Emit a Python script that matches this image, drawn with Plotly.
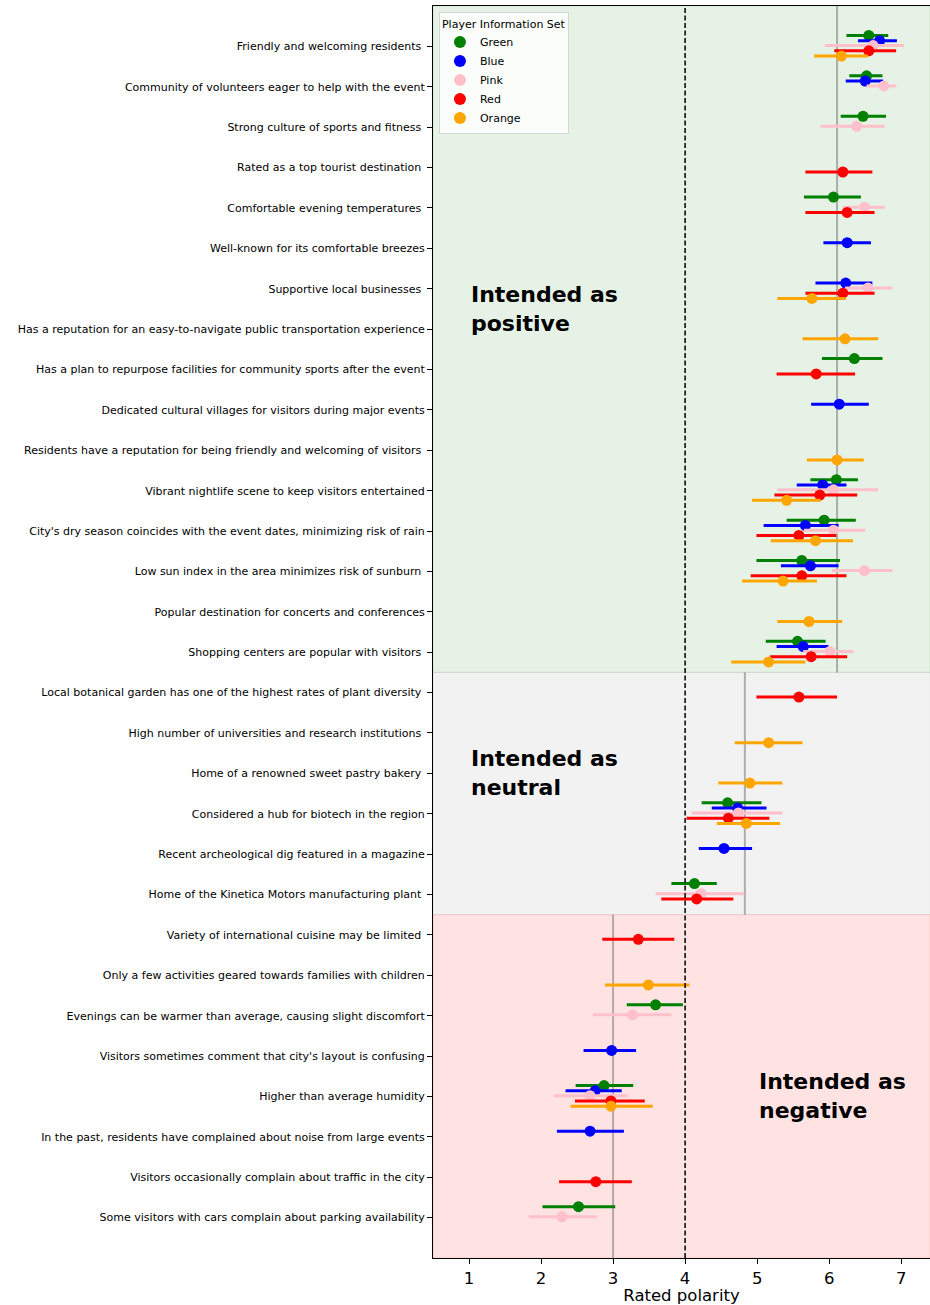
import plotly.graph_objects as go

labels = [
    "Friendly and welcoming residents ",
    "Community of volunteers eager to help with the event",
    "Strong culture of sports and fitness ",
    "Rated as a top tourist destination ",
    "Comfortable evening temperatures ",
    "Well-known for its comfortable breezes",
    "Supportive local businesses ",
    "Has a reputation for an easy-to-navigate public transportation experience",
    "Has a plan to repurpose facilities for community sports after the event",
    "Dedicated cultural villages for visitors during major events",
    "Residents have a reputation for being friendly and welcoming of visitors ",
    "Vibrant nightlife scene to keep visitors entertained",
    "City's dry season coincides with the event dates, minimizing risk of rain",
    "Low sun index in the area minimizes risk of sunburn ",
    "Popular destination for concerts and conferences",
    "Shopping centers are popular with visitors ",
    "Local botanical garden has one of the highest rates of plant diversity ",
    "High number of universities and research institutions ",
    "Home of a renowned sweet pastry bakery ",
    "Considered a hub for biotech in the region",
    "Recent archeological dig featured in a magazine",
    "Home of the Kinetica Motors manufacturing plant ",
    "Variety of international cuisine may be limited ",
    "Only a few activities geared towards families with children",
    "Evenings can be warmer than average, causing slight discomfort",
    "Visitors sometimes comment that city's layout is confusing",
    "Higher than average humidity",
    "In the past, residents have complained about noise from large events",
    "Visitors occasionally complain about traffic in the city",
    "Some visitors with cars complain about parking availability",
]

# each series: category index, mean, lower, upper
green_idx  = [0, 1, 2, 4, 8, 11, 12, 13, 15, 19, 21, 24, 26, 29]
green_mean = [6.55, 6.52, 6.47, 6.06, 6.35, 6.10, 5.93, 5.62, 5.56, 4.59, 4.13, 3.59, 2.875, 2.52]
green_lo   = [6.24, 6.28, 6.16, 5.65, 5.90, 5.74, 5.41, 4.99, 5.12, 4.23, 3.81, 3.19, 2.48, 2.02]
green_hi   = [6.82, 6.74, 6.79, 6.44, 6.74, 6.40, 6.37, 6.15, 5.95, 5.06, 4.44, 3.97, 3.28, 3.03]

blue_idx  = [0, 1, 5, 6, 9, 11, 12, 13, 15, 19, 20, 25, 26, 27]
blue_mean = [6.70, 6.50, 6.25, 6.23, 6.14, 5.91, 5.67, 5.74, 5.64, 4.73, 4.54, 2.98, 2.75, 2.68]
blue_lo   = [6.40, 6.23, 5.92, 5.81, 5.75, 5.55, 5.09, 5.33, 5.27, 4.37, 4.19, 2.59, 2.34, 2.22]
blue_hi   = [6.94, 6.75, 6.58, 6.60, 6.55, 6.24, 6.13, 6.13, 5.99, 5.13, 4.93, 3.32, 3.12, 3.15]

pink_idx  = [0, 1, 2, 4, 6, 11, 12, 13, 15, 19, 21, 24, 26, 29]
pink_mean = [6.61, 6.76, 6.38, 6.49, 6.54, 6.06, 6.06, 6.49, 6.01, 4.74, 4.22, 3.27, 2.68, 2.29]
pink_lo   = [5.94, 6.52, 5.88, 6.19, 6.22, 5.28, 5.65, 6.04, 5.64, 4.09, 3.59, 2.72, 2.18, 1.83]
pink_hi   = [7.04, 6.93, 6.77, 6.77, 6.88, 6.68, 6.50, 6.88, 6.34, 5.35, 4.82, 3.81, 3.21, 2.78]

red_idx  = [0, 3, 4, 6, 8, 11, 12, 13, 15, 16, 19, 21, 22, 26, 28]
red_mean = [6.55, 6.19, 6.25, 6.19, 5.82, 5.87, 5.58, 5.62, 5.75, 5.58, 4.60, 4.16, 3.35, 2.97, 2.76]
red_lo   = [6.07, 5.67, 5.67, 5.67, 5.27, 5.24, 4.99, 4.91, 5.18, 4.99, 4.02, 3.67, 2.85, 2.47, 2.25]
red_hi   = [6.93, 6.60, 6.63, 6.63, 6.36, 6.39, 6.10, 6.24, 6.25, 6.11, 5.17, 4.67, 3.85, 3.44, 3.26]

orange_idx  = [0, 6, 7, 10, 11, 12, 13, 14, 15, 17, 18, 19, 23, 26]
orange_mean = [6.17, 5.76, 6.22, 6.11, 5.41, 5.81, 5.36, 5.72, 5.16, 5.16, 4.90, 4.85, 3.49, 2.97]
orange_lo   = [5.79, 5.28, 5.63, 5.69, 4.93, 5.19, 4.79, 5.28, 4.64, 4.69, 4.46, 4.44, 2.89, 2.41]
orange_hi   = [6.54, 6.23, 6.68, 6.48, 5.88, 6.33, 5.83, 6.18, 5.67, 5.63, 5.35, 5.32, 4.06, 3.55]

series_names = ["Green", "Blue", "Pink", "Red", "Orange"]
series_colors = ["green", "blue", "pink", "red", "orange"]

# groups: name, first index, last index, mean line value
group_names = ["positive", "neutral", "negative"]
group_start = [0, 16, 22]
group_end = [15, 21, 29]
group_means = [6.11, 4.83, 3.00]
group_fill = ["rgba(0,128,0,0.10)", "rgba(128,128,128,0.10)", "rgba(255,0,0,0.11)"]
group_text_x = [1.0, 1.0, 5.0]
group_text_y = [6.5, 18.0, 26.0]

neutral_point = 4.0

all_series = [
    (green_idx, green_mean, green_lo, green_hi),
    (blue_idx, blue_mean, blue_lo, blue_hi),
    (pink_idx, pink_mean, pink_lo, pink_hi),
    (red_idx, red_mean, red_lo, red_hi),
    (orange_idx, orange_mean, orange_lo, orange_hi),
]
offsets = [-0.27, -0.14, -0.02, 0.11, 0.24]

FONT = "DejaVu Sans"
fig = go.Figure()

n = len(labels)
y_top, y_bot = -1, n

for k, (idx, mean, lo, hi) in enumerate(all_series):
    fig.add_trace(go.Scatter(
        x=mean,
        y=[i + offsets[k] for i in idx],
        mode="markers",
        name=series_names[k],
        marker=dict(color=series_colors[k], size=11, line=dict(width=0)),
        error_x=dict(
            type="data", symmetric=False,
            array=[h - m for h, m in zip(hi, mean)],
            arrayminus=[m - l for m, l in zip(mean, lo)],
            color=series_colors[k], thickness=3, width=0,
        ),
    ))

shapes = []
for g in range(3):
    y0 = y_top if g == 0 else group_start[g] - 0.5
    y1 = y_bot if g == 2 else group_end[g] + 0.5
    shapes.append(dict(type="rect", xref="paper", x0=0, x1=1, yref="y", y0=y0, y1=y1,
                       fillcolor=group_fill[g], line=dict(color=group_fill[g], width=1),
                       layer="below"))
for g in range(3):
    y0 = y_top if g == 0 else group_start[g] - 0.5
    y1 = y_bot if g == 2 else group_end[g] + 0.5
    shapes.append(dict(type="line", xref="x", x0=group_means[g], x1=group_means[g],
                       yref="y", y0=y0, y1=y1,
                       line=dict(color="rgba(128,128,128,0.6)", width=2), layer="below"))
shapes.append(dict(type="line", xref="x", x0=neutral_point, x1=neutral_point,
                   yref="paper", y0=0, y1=1,
                   line=dict(color="black", width=1.5, dash="5px,2.5px"), layer="above"))

annotations = []
for g in range(3):
    annotations.append(dict(
        x=group_text_x[g], y=group_text_y[g], xref="x", yref="y",
        text="<b>Intended as<br>" + group_names[g] + "</b>",
        showarrow=False, xanchor="left", yanchor="middle", align="left",
        font=dict(family=FONT, size=22, color="black"),
    ))

ticktext = [l[:-1] + "\u00a0" if l.endswith(" ") else l for l in labels]

fig.update_layout(
    width=930, height=1305,
    margin=dict(l=433, r=0, t=6, b=47),
    paper_bgcolor="white", plot_bgcolor="white",
    font=dict(family=FONT, color="black"),
    shapes=shapes, annotations=annotations,
    showlegend=True,
    legend=dict(
        x=0.012, y=0.995, xanchor="left", yanchor="top",
        bgcolor="rgba(255,255,255,0.8)", bordercolor="#d5d5d5", borderwidth=1,
        font=dict(family=FONT, size=11),
        title=dict(text="Player Information Set", font=dict(family=FONT, size=11)),
        itemsizing="constant",
    ),
    xaxis=dict(
        range=[0.5, 7.4], tickvals=[1, 2, 3, 4, 5, 6, 7],
        tickfont=dict(size=16.5), ticks="outside", ticklen=5, tickcolor="black",
        showgrid=False, zeroline=False, showline=True, linecolor="black", linewidth=1,
        mirror=True,
        title=dict(text="Rated polarity", font=dict(size=16.5), standoff=4),
    ),
    yaxis=dict(
        range=[y_bot, y_top], tickvals=list(range(n)), ticktext=ticktext,
        tickfont=dict(size=11), ticks="outside", ticklen=5, tickcolor="black",
        showgrid=False, zeroline=False, showline=True, linecolor="black", linewidth=1,
    ),
)

fig.write_html(
    "out.html",
    config={"displayModeBar": False},
    post_script="document.body.style.margin='0px';document.body.style.overflow='hidden';",
)
